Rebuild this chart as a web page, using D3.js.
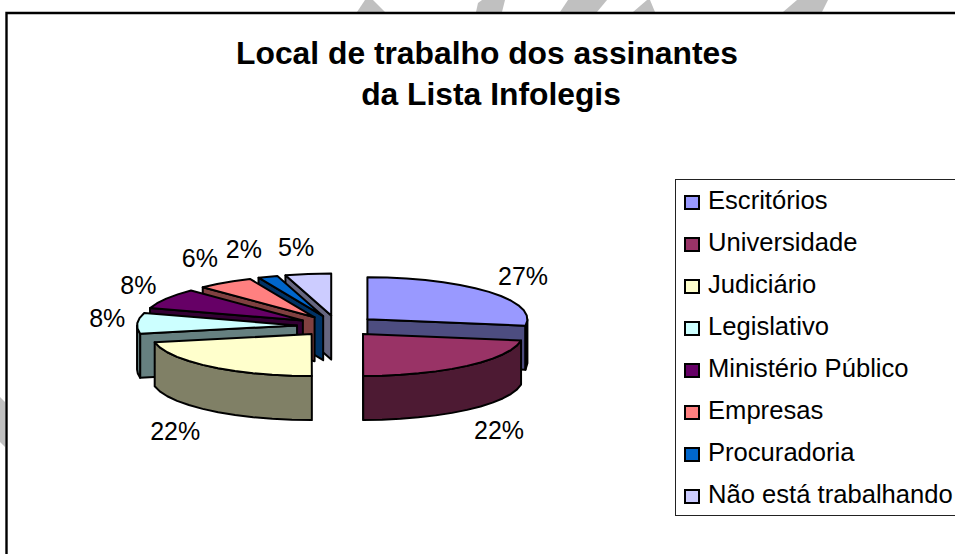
<!DOCTYPE html>
<html>
<head>
<meta charset="utf-8">
<script src="https://cdn.jsdelivr.net/npm/d3@7"></script>
<style>
html,body{margin:0;padding:0;background:#fff;overflow:hidden}
svg{display:block}
text{font-family:"Liberation Sans",Arial,sans-serif;fill:#000}
</style>
</head>
<body>
<svg id="chart" width="955" height="554"></svg>
<script>
const titleLines = ["Local de trabalho dos assinantes", "da Lista Infolegis"];
const categories = ["Escritórios","Universidade","Judiciário","Legislativo","Ministério Público","Empresas","Procuradoria","Não está trabalhando"];
const shares = [27.49,22.49,21.9,7.9,7.9,5.7,2,4.62];
const topColors = ["#9999FF","#993366","#FFFFCC","#CCFFFF","#660066","#FF8080","#0066CC","#CCCCFF"];
const wallColors = ["#4D4D80","#4D1A33","#808066","#668080","#330033","#804040","#003366","#666680"];

// layout, kept apart from the data
const W = 955, H = 554;
const cx = 337, cy = 326, rx = 160, ry = 42, depth = 44, explode = 40;
const drawOrder = [7,6,5,4,3,2,0,1];
const labelShift = [[34,-15],[32,65],[-35,65],[-30,-4],[-28,-13],[-25,-24],[-24,-27],[-12,-26]];
const titleX = [487,491];
const watermark = [
  [[357,12],[365,0],[373,0],[385,12]],
  [[476,12],[478,3],[482,0],[505,0],[502,12]],
  [[560,12],[568,0],[607,0],[597,12]],
  [[633,12],[647,0],[650,0],[655,12]],
  [[783,12],[797,0],[828,0],[822,12]],
  [[0,397],[5,402],[5,447],[0,442]]
];

const svg = d3.select("#chart");
svg.append("rect").attr("width",W).attr("height",H).attr("fill","#fff");
const line = d3.line();

svg.selectAll("path.wm").data(watermark).join("path").attr("class","wm")
  .attr("d",d=>line(d)+"Z").attr("fill","#C0C0C0");

// frame: open on the right and at the bottom, as in the crop
svg.append("path").attr("d",line([[6.5,H],[6.5,13],[W,13]]))
  .attr("fill","none").attr("stroke","#000").attr("stroke-width",2.4);

svg.append("g").selectAll("text").data(titleLines).join("text")
  .attr("x",(d,i)=>titleX[i]).attr("y",(d,i)=>64+i*41)
  .attr("text-anchor","middle").attr("font-weight","bold").attr("font-size",31.8)
  .text(d=>d);

// pie geometry through d3.pie
const arcs = d3.pie().sort(null).value(d=>d)(shares);
const pct = d3.format(".0%");
const total = d3.sum(shares);
const px = d3.scaleLinear().domain([-1,1]).range([-rx,rx]);
const py = d3.scaleLinear().domain([-1,1]).range([ry,-ry]);

const slices = arcs.map((a,i)=>{
  const mid = (a.startAngle+a.endAngle)/2;
  const ox = cx + explode*Math.sin(mid);
  const oy = cy - explode*(ry/rx)*Math.cos(mid);
  const at = t=>[ox+px(Math.sin(t)), oy+py(Math.cos(t))];
  return {i,a,mid,ox,oy,at};
});

function rim(s,t0,t1){
  const n = Math.max(1,Math.round((t1-t0)/(Math.PI/26)));
  return d3.range(n+1).map(k=>s.at(t0+(t1-t0)*k/n));
}
const down = p=>[p[0],p[1]+depth];

const g = svg.append("g").attr("stroke","#000").attr("stroke-width",2).attr("stroke-linejoin","round");
drawOrder.forEach(i=>{
  const s = slices[i], a0 = s.a.startAngle, a1 = s.a.endAngle, apex=[s.ox,s.oy];
  const wall = wallColors[i];
  const quad = (p,q)=>g.append("path").attr("d",line([p,q,down(q),down(p)])+"Z").attr("fill",wall);
  if (Math.sin(a0) < 0) quad(apex,s.at(a0));
  if (Math.sin(a1) > 0) quad(apex,s.at(a1));
  const f0 = Math.max(a0,Math.PI/2), f1 = Math.min(a1,3*Math.PI/2);
  if (f1 > f0) {
    const r = rim(s,f0,f1);
    g.append("path").attr("d",line(r.concat(r.slice().reverse().map(down)))+"Z").attr("fill",wall);
  }
  g.append("path").attr("d",line([apex].concat(rim(s,a0,a1)))+"Z").attr("fill",topColors[i]);
});

// percentage labels
svg.append("g").selectAll("text").data(slices).join("text")
  .attr("text-anchor","middle").attr("font-size",25)
  .attr("x",s=>s.at(s.mid)[0]+labelShift[s.i][0])
  .attr("y",s=>s.at(s.mid)[1]+labelShift[s.i][1]+8)
  .text(s=>pct(shares[s.i]/total));

// legend
svg.append("rect").attr("x",675.5).attr("y",179.5).attr("width",W).attr("height",336)
  .attr("fill","#fff").attr("stroke","#222").attr("stroke-width",1);
const rows = d3.scalePoint().domain(categories).range([202,496]);
const lg = svg.append("g").selectAll("g").data(categories).join("g")
  .attr("transform",d=>`translate(0,${rows(d)})`);
lg.append("rect").attr("x",685).attr("y",-6).attr("width",14).attr("height",13)
  .attr("fill",(d,i)=>topColors[i]).attr("stroke","#000").attr("stroke-width",2);
lg.append("text").attr("x",708).attr("y",7).attr("font-size",25.6).text(d=>d);
</script>
</body>
</html>
